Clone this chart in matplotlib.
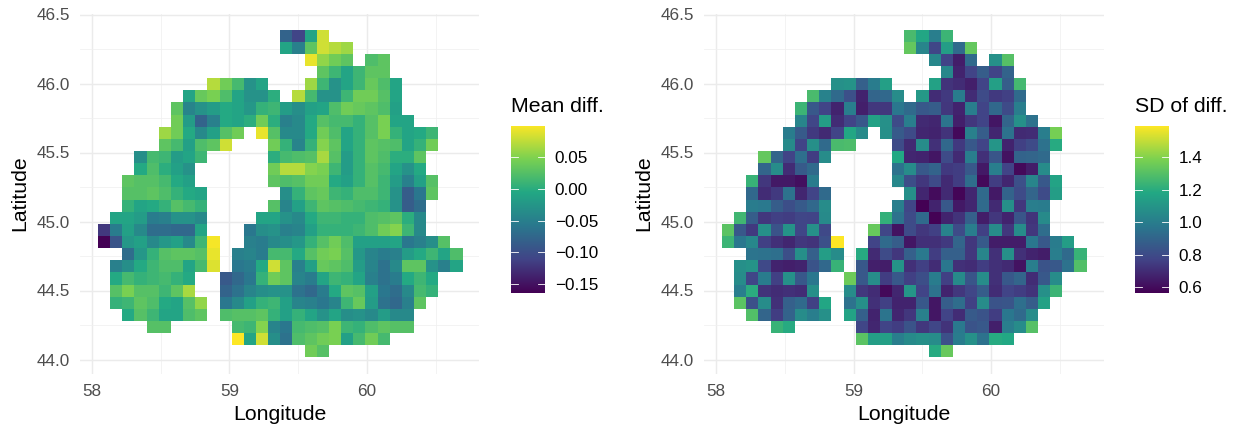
import numpy as np
import matplotlib
matplotlib.use("Agg")
import matplotlib.pyplot as plt
from matplotlib.colors import LinearSegmentedColormap
from matplotlib.ticker import MultipleLocator, FixedLocator

plt.rcParams['font.family'] = ['Liberation Sans', 'DejaVu Sans']

# Grid geometry of the raster (longitude / latitude of cell edges)
lon_edge0 = 58.0436
lat_edge0 = 46.391
cell_lon = 0.0884
cell_lat = 0.0880

# Each row: (first column, values); None = no data. Top row first.
# Mean difference, in hundredths
mean_rows = [
    (15, [-8, -11, -1, 8]),
    (15, [-1, -5, 3, 8, 7, 6]),
    (17, [9, 5.5, 4, 3, None, 2, 3]),
    (18, [3, 1, -1, 1, 3, 3]),
    (9, [7, 4, 1.5, -3, -1, None, None, None, 6, 1, -3, -1, 1, 3.5, 2, -1]),
    (7, [-1, 3.5, 4.5, 2, -1, -3, -3, 0, None, 7, 1.5, -3, -3, 1, 4, 4, 2.5, -1]),
    (6, [3, -4.5, -3, -2, -0.5, -1, -2.5, 0.5, 1, -2, -3.5, -1.5, -1, 2, 4, 3.5, 3, 2, -1.5]),
    (6, [4, -2, -8, -5, -0.5, -1, 0, 4, 0, -5, -4, -0.5, 2.5, 1.5, 1.5, 0.5, 2.5, 4.5, -1, -1]),
    (5, [6, 4, -0.5, -4, -1.5, 2.5, 4, None, 9, 2.5, -4, -4, -0.5, 4, 2, -1, 0.5, 2.5, 4.5, 0.5, -1, -0.5, 1]),
    (5, [3, 1.5, -1.5, 2, 3, 8, None, None, None, 4, 0.5, -4.5, 0.5, 5, 3, -1, 0.5, 3, 2.5, 2, -1, 0.5, 4]),
    (3, [-3.5, 1.5, 1, -2, -1, 1, None, None, None, None, None, 0, 1.5, 2, 2.5, 6.5, 2.5, -2, 0.5, 3, 2, 0, 0, 3]),
    (3, [-0.5, 2, 0, -1.5, -3, None, None, None, None, None, None, 4, 7, 7, 5, 4.5, 1, -2, 0.5, 2.5, 1.5, -1, -3, -0.5]),
    (2, [3, 2.5, 2.5, 1.5, -0.5, -1.5, None, None, None, None, None, None, 3, 2, 2.5, 4, 4, -0.5, -1.5, 0.5, 2.5, 1, -2, -5, -1.5, 2.5]),
    (2, [2.5, 2.5, 3, 2, 0.5, -0.5, -1, None, None, None, None, None, None, -3.5, 0.5, 3, 3.5, 1, 0.5, 2, 2, 1, -3, -8.5, -6, 3]),
    (2, [0.5, -1, -0.5, 0.5, 2.5, 1.5, 0.5, None, None, None, None, None, 2.5, -4.5, -1.5, 1, 3, 2.5, 2, 1.5, 1, 0.5, -3, -8.5, -7]),
    (1, [-1, -1, -2, -5.5, -5, -3, -3, -4, None, None, None, None, -1, -1, -3, -4, -0.5, 1, 1, 0.5, 0.5, 2, 2.5, 3, 0, -4]),
    (0, [-12, -5.5, -1.5, -4, -7, -7, -7.5, -7.5, -1, None, None, None, -6, -3.5, -3, -5, -4.5, -1.5, 0.5, 0.5, 0.5, 1, 2, 4, 5, 1, -4]),
    (0, [-16.4, -9.5, -2.5, -1.5, -4, -2.5, -1.5, -4, 1, 9.5, None, None, -5, -5.5, -4, -3.5, -2.5, 0.5, 2.5, 4, 2, -1.5, -1.5, -1.5, -1, -6, -5, -3.5, 2.5]),
    (2, [-7, -2.5, 0.5, 2.5, 3, 3, 2.5, 9, None, -5, -4.5, -5.5, 1.5, 1.5, -0.5, 2.5, 4, 4.5, 2.5, -2.5, -4.5, -5.5, -5, -2, -0.5, 1, -1, 2]),
    (1, [-5, -3.5, -0.5, 1, 2, 2, -1, 1.5, 8.5, None, -6, -5.5, -0.5, 8, 3, -5, -1.5, 3.5, 3, 2, -2, -4.5, -6.5, -4, 3, 3, -3, -5, -1]),
    (1, [-0.5, 1.5, 0.5, 1, 1.5, 0.5, -0.5, None, None, -9, -7.5, -6, 0.5, 4, 3, -4.5, -5.5, -1, 1, 0.5, -1, -5, -6.5, -5.5, -0.5, 1, -0.5]),
    (1, [2.5, 4.5, 2.5, 2.5, 1, 3, 6.5, None, None, -8, -6.5, -4.5, -3.5, -3, -3, -6.5, -7.5, -5.5, -0.5, 3, 2.5, -1.5, -6, -7, -4, 1.5, 0.5]),
    (1, [0.5, 1, 3, 2, -0.5, -1, 2.5, 5.5, None, -6, -4, -1.5, 0.5, 1, -1.5, -4.5, -5, -6, -4.5, 1, 3.5, -2, -6.5, -7.5, -5, 3]),
    (2, [-0.5, 2.5, 1, -1, -1, 2, 3, None, 2, 2.5, 2.5, 3, 0.5, -1.5, 0.5, -1, -3, -1, -3.5, -3, -4, -2, -4, -4]),
    (4, [2.5, 2.5, None, None, None, None, None, 1.5, 1, 5, -4.5, -6, 1.5, 2, 2.5, 4.5, 1, 0.5, 2, 3, 2.5, 2.5]),
    (11, [10, -1, 8, -3.5, -6.5, 2, 3, 4, 4.5, -1.5, 1.5, 4, 1.5]),
    (17, [4, 2.5]),
]

# SD of difference
sd_rows = [
    (15, [1.27, 1.17, 1.00, 1.24]),
    (15, [1.33, 1.03, 0.78, 1.13, 0.92, 1.33]),
    (17, [1.04, 0.77, 0.65, 0.92, None, 1.08, 1.30]),
    (18, [1.04, 0.67, 0.77, 0.87, 0.77, 0.89]),
    (9, [1.08, 1.09, 0.88, 0.99, 1.14, None, None, None, 1.15, 0.72, 0.70, 0.66, 0.77, 1.14, 0.87, 1.26]),
    (7, [1.27, 1.02, 0.92, 0.82, 0.67, 0.90, 0.91, 1.06, None, 1.11, 0.70, 0.74, 0.99, 0.70, 0.80, 0.74, 0.76, 0.92]),
    (6, [1.24, 0.85, 0.77, 0.67, 1.00, 0.66, 0.73, 0.73, 0.97, 0.92, 0.85, 0.87, 0.73, 0.67, 1.00, 0.77, 0.91, 0.80, 1.00]),
    (6, [1.03, 0.78, 1.13, 0.70, 0.77, 0.85, 1.15, 1.08, 0.80, 1.00, 0.69, 0.68, 0.96, 0.66, 0.73, 0.77, 0.63, 0.90, 1.08, 0.95]),
    (5, [0.99, 0.86, 0.74, 0.69, 0.77, 1.17, 1.05, None, 1.07, 0.86, 0.80, 0.68, 0.67, 0.72, 0.59, 1.01, 0.87, 0.68, 0.95, 0.69, 0.70, 1.00, 1.37]),
    (5, [1.05, 0.77, 1.07, 0.92, 1.27, 1.28, None, None, None, 0.80, 0.69, 1.06, 0.71, 0.91, 0.74, 0.85, 0.77, 1.10, 0.67, 0.76, 0.80, 0.95, 1.19]),
    (3, [1.33, 0.90, 0.77, 0.94, 0.75, 1.06, None, None, None, None, None, 1.18, 0.68, 0.67, 0.63, 0.80, 0.69, 1.00, 0.71, 0.84, 0.62, 0.89, 0.90, 0.92]),
    (3, [0.90, 1.06, 0.70, 0.86, 0.92, None, None, None, None, None, None, 0.95, 1.06, 0.85, 0.89, 0.74, 0.75, 0.85, 0.64, 1.00, 0.77, 0.59, 0.65, 1.06]),
    (2, [1.23, 0.73, 0.64, 0.64, 0.61, 0.99, None, None, None, None, None, None, 1.04, 0.81, 0.73, 0.80, 0.69, 0.75, 0.93, 0.59, 0.75, 0.68, 0.82, 1.03, 0.85, 1.16]),
    (2, [0.91, 0.70, 0.74, 0.95, 0.68, 0.77, 0.92, None, None, None, None, None, None, 1.07, 0.68, 0.60, 0.69, 0.58, 0.68, 0.92, 0.64, 0.89, 0.80, 0.90, 0.80, 1.13]),
    (2, [0.99, 0.98, 0.87, 0.81, 0.86, 0.91, 1.06, None, None, None, None, None, 1.00, 0.78, 0.565, 0.67, 0.85, 0.64, 0.68, 0.92, 0.69, 1.07, 0.73, 1.00, 0.99]),
    (1, [1.25, 0.87, 0.73, 0.76, 0.75, 0.78, 0.77, 1.05, None, None, None, None, 1.22, 0.95, 0.80, 0.92, 0.57, 0.67, 0.72, 0.88, 0.65, 0.73, 0.67, 0.84, 0.72, 1.05]),
    (0, [1.31, 0.85, 0.74, 1.08, 0.83, 1.09, 0.78, 1.08, 0.79, None, None, None, 1.34, 0.78, 0.62, 0.80, 0.73, 0.76, 1.02, 0.80, 1.00, 0.76, 1.06, 0.73, 1.06, 0.73, 0.93]),
    (0, [1.24, 0.97, 1.04, 0.76, 0.71, 0.68, 0.73, 0.72, 0.82, 1.59, None, None, 0.77, 0.92, 0.87, 0.63, 0.71, 0.71, 0.74, 0.90, 0.73, 0.86, 0.65, 0.65, 0.65, 0.97, 0.85, 0.99, 1.13]),
    (2, [0.96, 0.95, 0.94, 0.81, 1.07, 0.88, 1.13, 1.06, None, 1.19, 0.69, 0.80, 0.73, 0.88, 0.98, 0.75, 0.88, 0.88, 0.73, 1.03, 0.71, 1.07, 0.71, 0.67, 0.65, 1.00, 0.92, 1.23]),
    (1, [1.07, 1.09, 0.79, 0.67, 0.66, 0.67, 0.83, 0.91, 1.23, None, 0.85, 0.66, 0.65, 1.09, 0.71, 0.76, 0.70, 0.97, 0.71, 0.70, 0.75, 0.71, 0.69, 0.62, 1.00, 0.83, 0.85, 0.95, 1.29]),
    (1, [1.06, 0.78, 0.99, 0.76, 1.08, 0.85, 0.97, None, None, 1.35, 0.85, 1.06, 0.75, 0.85, 0.76, 0.81, 0.99, 0.76, 1.05, 0.84, 1.06, 0.71, 0.85, 0.90, 0.70, 0.85, 1.06]),
    (1, [1.00, 1.20, 0.72, 0.70, 0.71, 0.70, 1.07, None, None, 1.06, 0.73, 0.70, 0.59, 0.68, 1.10, 0.77, 0.95, 0.67, 0.73, 0.78, 0.87, 0.70, 0.77, 0.75, 0.72, 1.08, 1.24]),
    (1, [1.31, 0.82, 1.06, 0.71, 0.88, 0.92, 0.76, 1.17, None, 0.95, 1.07, 0.71, 0.76, 0.67, 0.67, 0.85, 0.63, 0.87, 0.93, 0.76, 1.06, 0.83, 0.84, 0.94, 0.87, 1.15]),
    (2, [1.29, 0.90, 0.75, 0.89, 1.06, 1.00, 1.08, None, 1.16, 0.88, 0.67, 0.96, 0.68, 0.73, 1.01, 0.63, 0.77, 0.70, 0.86, 0.83, 0.75, 0.97, 0.92, 1.06]),
    (4, [1.23, 1.19, None, None, None, None, None, 0.78, 0.68, 0.77, 0.75, 0.83, 0.73, 0.78, 0.72, 0.98, 0.83, 0.85, 0.66, 1.00, 1.06, 1.30]),
    (11, [1.31, 1.13, 1.14, 1.00, 1.05, 1.07, 1.06, 0.82, 0.99, 1.08, 0.95, 1.19, 1.18]),
    (17, [1.19, 1.34]),
]

lon_ticks = [58, 59, 60]
lat_ticks = [44.0, 44.5, 45.0, 45.5, 46.0, 46.5]
mean_ticks = [-0.15, -0.10, -0.05, 0.00, 0.05]
sd_ticks = [0.6, 0.8, 1.0, 1.2, 1.4]
mean_limits = (-0.164, 0.099)
sd_limits = (0.565, 1.59)

W, H = 1238, 425

# Six viridis stops, blended in an even ramp as the reference's colour scale does
stops = ['#440154', '#414487', '#2A788E', '#22A884', '#7AD151', '#FDE725']
cmap = LinearSegmentedColormap.from_list('viridis6', stops, N=256)


def to_grid(rows, scale=1.0):
    g = np.full((len(rows), 30), np.nan)
    for r, (start, vals) in enumerate(rows):
        for i, v in enumerate(vals):
            if v is not None:
                g[r, start + i] = v * scale
    return g


def panel(fig, px_left, px_right, px_58, grid, limits, title, ticks, fmt, bar_left):
    px_top, px_bottom = 14, 374
    ax = fig.add_axes([px_left / W, 1 - px_bottom / H,
                       (px_right - px_left) / W, (px_bottom - px_top) / H])
    ax.set_xlim(58 + (px_left - px_58) / 137.5, 58 + (px_right - px_58) / 137.5)
    ax.set_ylim(44 - (px_bottom - 359.5) / 138.0, 44 + (359.5 - px_top) / 138.0)

    xe = lon_edge0 + cell_lon * np.arange(grid.shape[1] + 1)
    ye = lat_edge0 - cell_lat * np.arange(grid.shape[0] + 1)
    ax.pcolormesh(xe, ye, np.ma.masked_invalid(grid), cmap=cmap,
                  vmin=limits[0], vmax=limits[1], linewidth=0,
                  antialiased=False, zorder=3)

    ax.xaxis.set_major_locator(FixedLocator(lon_ticks))
    ax.yaxis.set_major_locator(FixedLocator(lat_ticks))
    ax.xaxis.set_minor_locator(MultipleLocator(0.5))
    ax.yaxis.set_minor_locator(MultipleLocator(0.25))
    ax.grid(True, which='major', color='#ebebeb', linewidth=1.05, zorder=0)
    ax.grid(True, which='minor', color='#f0f0f0', linewidth=0.55, zorder=0)
    ax.set_axisbelow(True)
    ax.tick_params(which='both', length=0)
    ax.tick_params(axis='both', labelsize=12.3, labelcolor='#4d4d4d', pad=7)
    ax.set_yticklabels([f'{t:.1f}' for t in lat_ticks])
    ax.set_xticklabels([str(t) for t in lon_ticks])
    for s in ax.spines.values():
        s.set_visible(False)
    ax.set_xlabel('Longitude', fontsize=15.3, color='black', va='center')
    ax.set_ylabel('Latitude', fontsize=15.3, color='black', va='center')
    ax.xaxis.set_label_coords((px_left + px_right) / 2 / W, 1 - 415 / H, transform=fig.transFigure)
    ax.yaxis.set_label_coords((px_left - 60) / W, 1 - 193 / H, transform=fig.transFigure)

    # Colour bar
    bar_w, bar_top, bar_bottom = 34, 126, 293
    cax = fig.add_axes([bar_left / W, 1 - bar_bottom / H, bar_w / W, (bar_bottom - bar_top) / H])
    gradient = np.linspace(limits[0], limits[1], 256)[:, None]
    cax.imshow(gradient, origin='lower', aspect='auto', cmap=cmap,
               extent=[0, 1, limits[0], limits[1]], vmin=limits[0], vmax=limits[1])
    cax.set_xticks([])
    cax.set_yticks(ticks)
    cax.set_yticklabels([fmt(t) for t in ticks])
    cax.yaxis.tick_right()
    cax.tick_params(axis='y', length=0, labelsize=12.3, labelcolor='black', pad=7)
    for t in ticks:
        cax.plot([0, 0.2], [t, t], color='white', lw=0.6, zorder=5)
        cax.plot([0.8, 1], [t, t], color='white', lw=0.6, zorder=5)
    cax.set_xlim(0, 1)
    cax.set_ylim(*limits)
    for s in cax.spines.values():
        s.set_visible(False)
    fig.text(bar_left / W, 1 - 106 / H, title, fontsize=15.3, color='black',
             ha='left', va='center')


fig = plt.figure(figsize=(W / 100, H / 100), dpi=100, facecolor='white')

mean_grid = to_grid(mean_rows, 0.01)
sd_grid = to_grid(sd_rows, 1.0)

panel(fig, 80, 479, 92.0, mean_grid, mean_limits, 'Mean diff.', mean_ticks,
      lambda t: f'{t:.2f}'.replace('-', '\u2212'), 511)
panel(fig, 704, 1104, 716.0, sd_grid, sd_limits, 'SD of diff.', sd_ticks,
      lambda t: f'{t:.1f}', 1135)

fig.savefig('out.png', dpi=100, facecolor='white')
